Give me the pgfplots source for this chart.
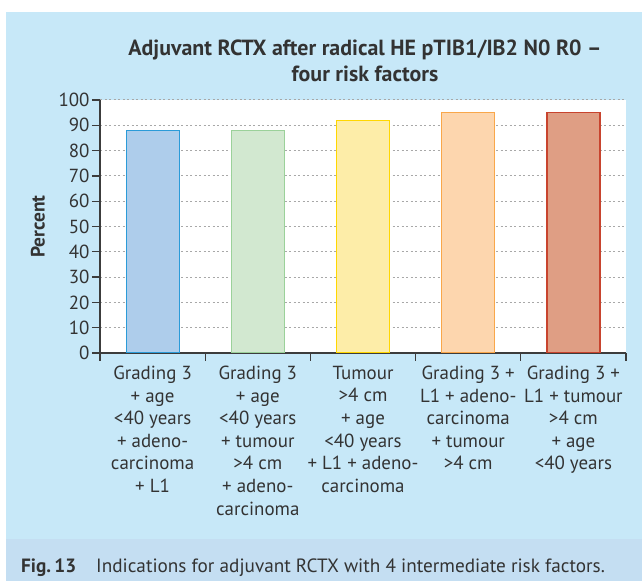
\documentclass[border=0pt]{standalone}
\usepackage{pgfplots}
\pgfplotsset{compat=1.18}
\usepackage{fontspec}
\setmainfont{PT Sans}
\definecolor{panel}{HTML}{C7E8F8}
\definecolor{capband}{HTML}{C4DEF2}
\definecolor{txt}{HTML}{333333}
\definecolor{axcol}{HTML}{3C3C3C}
\definecolor{gridc}{HTML}{A8A8A8}
\definecolor{f1}{HTML}{AECDEB}\definecolor{d1}{HTML}{2B9BD8}
\definecolor{f2}{HTML}{D2E8D0}\definecolor{d2}{HTML}{9BD19A}
\definecolor{f3}{HTML}{FDEDA8}\definecolor{d3}{HTML}{FFD700}
\definecolor{f4}{HTML}{FDD6AE}\definecolor{d4}{HTML}{F9A74A}
\definecolor{f5}{HTML}{DF9E84}\definecolor{d5}{HTML}{C8442E}
\begin{document}
\begin{tikzpicture}
\fill[white] (0bp,0bp) rectangle (642bp,581bp);
\fill[panel] (6bp,42bp) rectangle (642bp,569bp);
\fill[capband] (6bp,0bp) rectangle (642bp,42bp);
\node[font=\bfseries\fontsize{22}{26.5}\selectfont, align=center, text=txt] at (365bp,520bp) {Adjuvant RCTX after radical HE pTIB1/IB2 N0 R0 –\\four risk factors};
\node[anchor=base west, font=\fontsize{19.3}{22}\selectfont, text=txt, inner sep=0pt] at (21bp,9bp) {\textbf{Fig.\,13}\hspace{20bp}Indications for adjuvant RCTX with 4 intermediate risk factors.};
\begin{axis}[
  at={(100bp,228bp)}, anchor=south west,
  scale only axis, width=526bp, height=253bp,
  xmin=-0.5, xmax=4.5, ymin=0, ymax=100,
  axis x line=bottom, axis y line=left,
  axis line style={draw=axcol, line width=1.3bp, -},
  axis background/.style={fill=white},
  ytick={0,10,...,100},
  xtick={-0.5,0.5,1.5,2.5,3.5,4.5},
  x tick label as interval,
  xticklabels={{Grading 3\\+ age\\<40 years\\+ adeno-\\carcinoma\\+ L1},
               {Grading 3\\+ age\\<40 years\\+ tumour\\>4 cm\\+ adeno-\\carcinoma},
               {Tumour\\>4 cm\\+ age\\<40 years\\+ L1 + adeno-\\carcinoma},
               {Grading 3 +\\L1 + adeno-\\carcinoma\\+ tumour\\>4 cm},
               {Grading 3 +\\L1 + tumour\\>4 cm\\+ age\\<40 years}},
  tick align=outside, major tick length=8bp,
  tick style={draw=axcol, line width=1.3bp},
  ymajorgrids,
  grid style={draw=gridc, line width=1bp, dash pattern=on 2bp off 2.5bp},
  ticklabel style={font=\fontsize{19}{22.7}\selectfont, text=txt},
  /pgf/number format/assume math mode=true,
  yticklabel style={xshift=1bp},
  xticklabel style={align=center, anchor=north, yshift=-1.5bp},
  ylabel={\textbf{Percent}},
  every axis y label/.style={at={(axis description cs:-0.118,0.5)}, rotate=90, anchor=center, font=\fontsize{19.5}{22}\selectfont, text=txt},
]
\addplot[ybar, bar shift=0pt, bar width=53bp, fill=f1, draw=d1, line width=1.2bp] coordinates {(0,88)};
\addplot[ybar, bar shift=0pt, bar width=53bp, fill=f2, draw=d2, line width=1.2bp] coordinates {(1,88)};
\addplot[ybar, bar shift=0pt, bar width=53bp, fill=f3, draw=d3, line width=1.2bp] coordinates {(2,92)};
\addplot[ybar, bar shift=0pt, bar width=53bp, fill=f4, draw=d4, line width=1.2bp] coordinates {(3,95)};
\addplot[ybar, bar shift=0pt, bar width=53bp, fill=f5, draw=d5, line width=1.2bp] coordinates {(4,95)};
\end{axis}
\end{tikzpicture}
\end{document}
